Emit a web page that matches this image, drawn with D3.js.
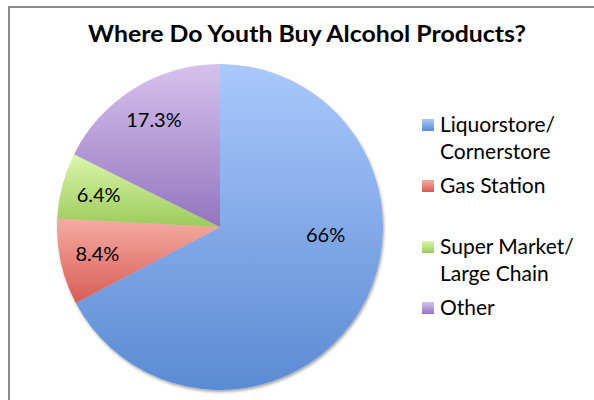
<!DOCTYPE html>
<html>
<head>
<meta charset="utf-8">
<script src="https://cdn.jsdelivr.net/npm/d3@7/dist/d3.min.js"></script>
<style>
  html, body { margin: 0; padding: 0; background: #fff; }
  svg { display: block; font-family: Lato, "Open Sans", sans-serif; }
</style>
</head>
<body>
<div id="chart"></div>
<script>
"use strict";

const TITLE = "Where Do Youth Buy Alcohol Products?";
const categories = ["Liquorstore/ Cornerstore", "Gas Station", "Super Market/ Large Chain", "Other"];
const legendLines = [["Liquorstore/", "Cornerstore"], ["Gas Station"], ["Super Market/", "Large Chain"], ["Other"]];
const values = [66, 8.4, 6.4, 17.3];
const valueLabels = ["66%", "8.4%", "6.4%", "17.3%"];

// top / bottom of each slice's vertical gradient
const palette = [
  { top: "#abc8fb", bottom: "#5a8bd4" },
  { top: "#f6aba3", bottom: "#d65d55" },
  { top: "#dbf6ab", bottom: "#9ccb5b" },
  { top: "#d6c2ed", bottom: "#9574bf" },
];

const width = 594, height = 400;
const cx = 220, cy = 227, radius = 163;

const svg = d3.select("#chart").append("svg").attr("width", width).attr("height", height);
const defs = svg.append("defs");

palette.forEach(function addGradient(p, i) {
  const g = defs.append("linearGradient").attr("id", "grad" + i).attr("x1", 0).attr("y1", 0).attr("x2", 0).attr("y2", 1);
  g.append("stop").attr("offset", "0%").attr("stop-color", p.top);
  g.append("stop").attr("offset", "100%").attr("stop-color", p.bottom);
});

const shadow = defs.append("filter").attr("id", "shadow").attr("x", "-10%").attr("y", "-10%").attr("width", "120%").attr("height", "120%");
shadow.append("feGaussianBlur").attr("in", "SourceAlpha").attr("stdDeviation", 1.5);
shadow.append("feOffset").attr("dx", 1).attr("dy", 2).attr("result", "blur");
shadow.append("feComponentTransfer").append("feFuncA").attr("type", "linear").attr("slope", 0.35);
const merge = shadow.append("feMerge");
merge.append("feMergeNode");
merge.append("feMergeNode").attr("in", "SourceGraphic");

// chart frame (only top and left edges are inside the picture)
svg.append("path").attr("d", "M9,400V7H594").attr("fill", "none").attr("stroke", "#8c8c8c").attr("stroke-width", 2);

svg.append("text").attr("x", 307).attr("y", 42).attr("text-anchor", "middle")
  .attr("font-size", 22).attr("font-weight", 700).attr("fill", "#000")
  .attr("textLength", 438).attr("lengthAdjust", "spacingAndGlyphs")
  .text(TITLE);

const pie = d3.pie().sort(null).value(function (d) { return d; });
const arcs = pie(values);
const arc = d3.arc().innerRadius(0).outerRadius(radius);

const pieG = svg.append("g").attr("transform", "translate(" + cx + "," + cy + ")");
pieG.append("g").attr("filter", "url(#shadow)").selectAll("path").data(arcs).join("path")
  .attr("d", arc)
  .attr("fill", function (d, i) { return "url(#grad" + i + ")"; });

function labelPos(d) {
  const span = d.endAngle - d.startAngle;
  const big = span > Math.PI;
  const angle = big ? d.startAngle + span * 0.39 : (d.startAngle + d.endAngle) / 2;
  const r = radius * (big ? 0.65 : 0.77);
  return [Math.sin(angle) * r, -Math.cos(angle) * r];
}

pieG.selectAll("text.val").data(arcs).join("text").attr("class", "val")
  .attr("x", function (d) { return labelPos(d)[0]; })
  .attr("y", function (d) { return labelPos(d)[1]; })
  .attr("dy", "0.36em")
  .attr("text-anchor", "middle")
  .attr("font-size", 20).attr("fill", "#000")
  .text(function (d, i) { return valueLabels[i]; });

const legendY = d3.scalePoint().domain(d3.range(categories.length)).range([125, 308]);
const legend = svg.append("g");
const item = legend.selectAll("g").data(categories).join("g")
  .attr("transform", function (d, i) { return "translate(422," + legendY(i) + ")"; });
item.append("rect").attr("x", 0).attr("y", -6).attr("width", 12).attr("height", 12)
  .attr("fill", function (d, i) { return "url(#grad" + i + ")"; });
item.append("text").attr("x", 18).attr("y", 7).attr("font-size", 21).attr("fill", "#000")
  .selectAll("tspan").data(function (d, i) { return legendLines[i]; }).join("tspan")
  .attr("x", 18).attr("dy", function (d, j) { return j === 0 ? 0 : 27; })
  .text(function (d) { return d; });
</script>
</body>
</html>
